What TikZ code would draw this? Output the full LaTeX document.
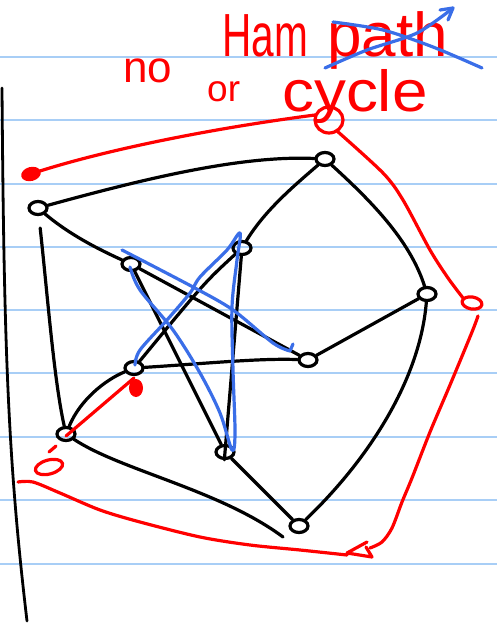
\documentclass[tikz,border=0pt]{standalone}
\usepackage{fontspec}
\setmainfont{Liberation Sans}
\usetikzlibrary{shapes.geometric,calc}
\definecolor{rule}{RGB}{168,206,246}
\definecolor{pen}{RGB}{0,0,0}
\definecolor{redpen}{RGB}{255,0,0}
\definecolor{bluepen}{RGB}{58,110,232}
\tikzset{
  ruled/.style={draw=rule,line width=2pt},
  ink/.style={draw=pen,line width=3.2pt,line cap=round,line join=round},
  redink/.style={draw=redpen,line width=3.2pt,line cap=round,line join=round},
  blueink/.style={draw=bluepen,line width=3.2pt,line cap=round,line join=round},
  vtx/.style={ellipse,draw=pen,line width=3.2pt,minimum width=18pt,minimum height=13pt,inner sep=0pt},
  words/.style={text=redpen,inner sep=0pt}
}
\begin{document}
\begin{tikzpicture}[x=1pt,y=-1pt]
\useasboundingbox (0,0) rectangle (497,623);
\fill[white] (0,0) rectangle (497,623);
% ruled lines
\foreach \yy in {57,120,184,247,310,373,437,500,564}
  \draw[ruled] (0,\yy) -- (497,\yy);
% margin line
\draw[ink,line width=2.8pt] (2,88) .. controls (4,350) and (8,460) .. (27,621);

% text
\node[words,anchor=base west,font=\fontsize{44}{44}\selectfont] (tno) at (123,83) {no};
\node[words,anchor=base west,font=\fontsize{58}{58}\selectfont] (tham) at (222,57) {\scalebox{0.7}[1.05]{Ham}};
\node[words,anchor=base west,font=\fontsize{62}{62}\selectfont] (tpath) at (327,57) {path};
\node[words,anchor=base west,font=\fontsize{37}{37}\selectfont] (tor) at (207,102) {or};
\node[words,anchor=base west,font=\fontsize{58}{58}\selectfont] (tcycle) at (282,111) {\scalebox{1.1}[1]{cycle}};
% blue cross over "path"
\draw[blueink] plot[smooth] coordinates {(333,22) (383,30) (433,47) (482,68)};
\draw[blueink] plot[smooth] coordinates {(325,68) (367,50) (417,33) (453,8)};
\draw[blueink] (440,10) -- (453,8) -- (448,20);

% vertices
\node[vtx] (o1) at (325,159) {};
\node[vtx] (o2) at (38,208) {};
\node[vtx] (o3) at (427,294) {};
\node[vtx] (o4) at (66,434) {};
\node[vtx] (o5) at (299,526) {};
\node[vtx] (i1) at (131,264) {};
\node[vtx] (i2) at (242,248) {};
\node[vtx] (i3) at (308,360) {};
\node[vtx] (i4) at (134,368) {};
\node[vtx] (i5) at (225,452) {};
\coordinate (o5e) at (283,537);

% outer cycle
\draw[ink] (o2) .. controls (140,180) and (240,155) .. (o1);
\draw[ink] (o1) .. controls (370,200) and (410,240) .. (o3);
\draw[ink] (o3) .. controls (420,380) and (368,460) .. (o5);
\draw[ink] (o4) .. controls (120,470) and (220,490) .. (o5e);
\draw[ink,shorten <=12pt] (o2) .. controls (48,300) and (54,380) .. (o4);
% spokes
\draw[ink] (o2) .. controls (70,235) and (100,250) .. (i1);
\draw[ink] (o1) .. controls (295,185) and (265,210) .. (i2);
\draw[ink] (o3) -- (i3);
\draw[ink] (o5) -- (i5);
\draw[ink] (o4) .. controls (80,400) and (105,380) .. (i4);
% inner pentagram
\draw[ink] (i1) -- (i3);
\draw[ink] (i1) -- (i5);
\draw[ink] (i2) .. controls (205,282) .. (i4);
\draw[ink,shorten >=-16pt] (i2) -- (i5);
\draw[ink] (i4) .. controls (200,364) and (260,358) .. (i3);

% blue trace
\draw[blueink] plot[smooth,tension=0.5] coordinates {(122,250) (193,287) (233,310) (273,343) (290,351)} -- (293,344);
\draw[blueink] plot[smooth,tension=0.55] coordinates {(130,267) (140,290) (173,330) (200,373) (220,413) (232,450) (235,433) (233,370) (232,307) (237,260) (240,233) (227,250) (200,277) (190,293) (167,320) (140,350) (135,365)};

% red annotations
\fill[redpen,rotate around={15:(31,174)}] (31,174) ellipse (10pt and 7pt);
\draw[redink] (40,171) .. controls (100,152) and (200,130) .. (315,115);
\draw[redink] (329,120) ellipse (14pt and 13pt);
\draw[redink] plot[smooth] coordinates {(337,131) (383,173) (403,200) (430,250) (448,278) (463,298)};
\draw[redink,rotate around={-10:(472,303)}] (472,303) ellipse (10pt and 6pt);
\draw[redink] plot[smooth] coordinates {(478,316) (472,332) (450,385) (430,432) (412,478) (402,502) (392,528) (382,542) (370,548)};
\draw[redink] (367,542) -- (347,553) -- (372,557) -- (366,547);
\draw[redink] plot[smooth] coordinates {(18,482) (33,482) (60,493) (100,510) (140,522) (200,537) (250,545) (300,550) (347,555)};
\draw[redink] (134,378) -- (66,436);
\draw[redink] (56,446) -- (49,452);
\fill[redpen] (136,388) ellipse (7pt and 9pt);
\draw[redink,rotate around={15:(49,467)}] (49,467) ellipse (14pt and 7pt);
\end{tikzpicture}
\end{document}
